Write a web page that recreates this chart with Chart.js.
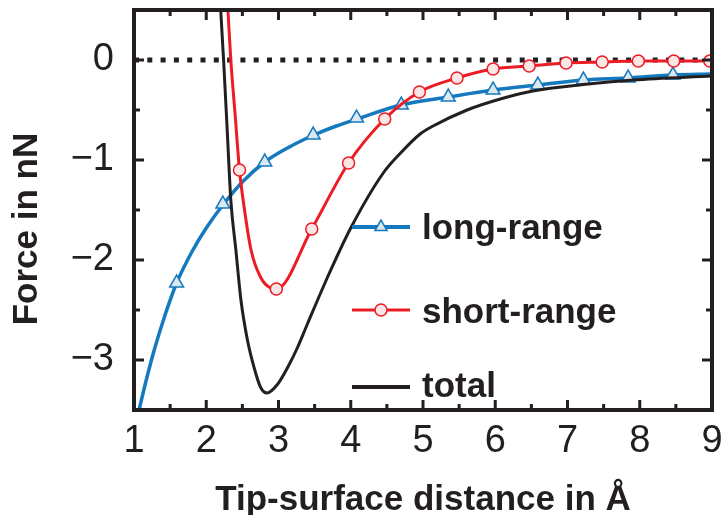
<!DOCTYPE html>
<html>
<head>
<meta charset="utf-8">
<script src="https://cdn.jsdelivr.net/npm/chart.js@4.4.1/dist/chart.umd.min.js"></script>
<style>
  html, body { margin: 0; padding: 0; background: #fff; }
  #wrap { width: 727px; height: 515px; }
</style>
</head>
<body>
<div id="wrap"><canvas id="forceChart" width="727" height="515"></canvas></div>
<script>
// long-range force (blue curve) and its triangle markers
const longX = [1.00, 1.07, 1.17, 1.28, 1.43, 1.59, 1.80, 2.00, 2.23, 2.50, 2.81, 3.15, 3.49, 3.80, 4.09, 4.69, 5.35, 5.97, 6.59, 7.22, 7.84, 8.46, 9.00];
const longY = [-3.72, -3.50, -3.20, -2.90, -2.55, -2.23, -1.92, -1.68, -1.45, -1.22, -1.02, -0.87, -0.75, -0.66, -0.59, -0.45, -0.37, -0.30, -0.25, -0.20, -0.18, -0.15, -0.14];
const longMarkX = [1.59, 2.23, 2.81, 3.48, 4.08, 4.70, 5.35, 5.97, 6.59, 7.22, 7.84, 8.46];
const longMarkY = [-2.23, -1.44, -1.02, -0.75, -0.58, -0.45, -0.37, -0.30, -0.25, -0.20, -0.18, -0.15];

// short-range force (red curve) and its circle markers
const shortX = [2.27, 2.30, 2.34, 2.40, 2.46, 2.52, 2.62, 2.75, 2.89, 2.97, 3.46, 3.97, 4.47, 4.95, 5.47, 5.97, 6.47, 6.98, 7.48, 7.98, 8.47, 8.97, 9.00];
const shortY = [0.85, 0.50, 0.00, -0.55, -1.10, -1.45, -1.90, -2.17, -2.28, -2.29, -1.69, -1.03, -0.59, -0.32, -0.18, -0.09, -0.06, -0.03, -0.02, -0.01, -0.01, -0.01, -0.01];
const shortMarkX = [2.46, 2.97, 3.46, 3.97, 4.47, 4.95, 5.47, 5.97, 6.47, 6.98, 7.48, 7.98, 8.47, 8.97];
const shortMarkY = [-1.10, -2.29, -1.69, -1.03, -0.59, -0.32, -0.18, -0.09, -0.06, -0.03, -0.02, -0.01, -0.01, -0.01];

// total force (black curve)
const totalX = [2.17, 2.20, 2.24, 2.29, 2.34, 2.41, 2.48, 2.57, 2.66, 2.75, 2.84, 2.99, 3.13, 3.26, 3.40, 3.68, 4.00, 4.45, 4.69, 4.96, 5.14, 5.61, 6.07, 6.52, 7.22, 7.91, 9.00];
const totalY = [0.80, 0.50, 0.00, -0.70, -1.40, -1.90, -2.40, -2.80, -3.07, -3.27, -3.33, -3.24, -3.07, -2.88, -2.64, -2.17, -1.68, -1.13, -0.93, -0.74, -0.66, -0.50, -0.39, -0.31, -0.245, -0.20, -0.16];

// zero reference line
const zeroX = [1, 9];
const zeroY = [0, 0];

// axes
const xMajor = [1, 2, 3, 4, 5, 6, 7, 8, 9];
const xTickLabels = ['1', '2', '3', '4', '5', '6', '7', '8', '9'];
const xMinor = [1.5, 2.5, 3.5, 4.5, 5.5, 6.5, 7.5, 8.5];
const yMajor = [0, -1, -2, -3];
const yTickLabels = ['0', '\u22121', '\u22122', '\u22123'];
const yMinor = [-0.5, -1.5, -2.5];

const seriesNames = ['long-range', 'short-range', 'total'];

const BLUE = '#1479bf';
const RED = '#ec1c24';
const INK = '#231f20';

const pts = (xs, ys) => xs.map((x, i) => ({ x: x, y: ys[i] }));

const axesPlugin = {
    id: 'figureAxes',
    afterDatasetsDraw(chart) {
        const ctx = chart.ctx;
        const a = chart.chartArea;
        const xs = chart.scales.x;
        const ys = chart.scales.y;

        ctx.save();
        ctx.strokeStyle = INK;
        ctx.fillStyle = INK;

        // frame
        ctx.lineWidth = 4;
        ctx.strokeRect(a.left, a.top, a.right - a.left, a.bottom - a.top);

        // inward ticks
        ctx.lineWidth = 3;
        ctx.beginPath();
        const xTick = (v, len) => {
            const px = xs.getPixelForValue(v);
            ctx.moveTo(px, a.bottom); ctx.lineTo(px, a.bottom - len);
            ctx.moveTo(px, a.top); ctx.lineTo(px, a.top + len);
        };
        const yTick = (v, len) => {
            const py = ys.getPixelForValue(v);
            ctx.moveTo(a.left, py); ctx.lineTo(a.left + len, py);
            ctx.moveTo(a.right, py); ctx.lineTo(a.right - len, py);
        };
        xMajor.forEach(v => xTick(v, 10));
        xMinor.forEach(v => xTick(v, 6));
        yMajor.forEach(v => yTick(v, 10));
        yMinor.forEach(v => yTick(v, 6));
        ctx.stroke();

        // tick labels
        ctx.font = '38px "Liberation Sans", Arial, sans-serif';
        ctx.textAlign = 'center';
        ctx.textBaseline = 'middle';
        xMajor.forEach((v, i) => ctx.fillText(xTickLabels[i], xs.getPixelForValue(v), 442));
        ctx.textAlign = 'right';
        yMajor.forEach((v, i) => ctx.fillText(yTickLabels[i], 114, ys.getPixelForValue(v)));

        // axis titles
        ctx.font = 'bold 35px "Liberation Sans", Arial, sans-serif';
        ctx.textAlign = 'center';
        ctx.textBaseline = 'alphabetic';
        ctx.fillText('Tip-surface distance in \u00c5', (a.left + a.right) / 2, 510);
        ctx.save();
        ctx.translate(37, 229);
        ctx.rotate(-Math.PI / 2);
        ctx.fillText('Force in nN', 0, 0);
        ctx.restore();

        // legend
        const items = [
            { color: BLUE, width: 4, style: 'triangle', r: 7, fill: '#dde7ef', lineY: 227, base: 239 },
            { color: RED, width: 3, style: 'circle', r: 6, fill: '#fbe6e6', lineY: 310, base: 323 },
            { color: INK, width: 4, style: null, lineY: 387, base: 397 }
        ];
        items.forEach((it, i) => {
            ctx.strokeStyle = it.color;
            ctx.lineWidth = it.width;
            ctx.beginPath();
            ctx.moveTo(352, it.lineY);
            ctx.lineTo(410, it.lineY);
            ctx.stroke();
            if (it.style) {
                ctx.fillStyle = it.fill;
                ctx.lineWidth = 1.5;
                Chart.helpers.drawPoint(ctx, { pointStyle: it.style, radius: it.r, rotation: 0, borderWidth: 1.5 }, 381, it.lineY);
            }
            ctx.fillStyle = INK;
            ctx.textAlign = 'left';
            ctx.fillText(seriesNames[i], 422, it.base);
        });

        ctx.restore();
    }
};

new Chart(document.getElementById('forceChart'), {
    type: 'line',
    data: {
        datasets: [
            {
                label: 'zero',
                data: pts(zeroX, zeroY),
                borderColor: INK,
                borderWidth: 5,
                borderDash: [5, 8.3],
                pointRadius: 0,
                order: 6
            },
            {
                label: seriesNames[0],
                data: pts(longX, longY),
                borderColor: BLUE,
                borderWidth: 3.5,
                cubicInterpolationMode: 'monotone',
                pointRadius: 0,
                order: 5
            },
            {
                label: seriesNames[0] + ' markers',
                data: pts(longMarkX, longMarkY),
                showLine: false,
                pointStyle: 'triangle',
                pointRadius: 8,
                pointBorderWidth: 1.5,
                pointBorderColor: BLUE,
                pointBackgroundColor: '#dde7ef',
                order: 4
            },
            {
                label: seriesNames[2],
                data: pts(totalX, totalY),
                borderColor: INK,
                borderWidth: 3,
                cubicInterpolationMode: 'monotone',
                pointRadius: 0,
                order: 3
            },
            {
                label: seriesNames[1],
                data: pts(shortX, shortY),
                borderColor: RED,
                borderWidth: 3,
                cubicInterpolationMode: 'monotone',
                pointRadius: 0,
                order: 2
            },
            {
                label: seriesNames[1] + ' markers',
                data: pts(shortMarkX, shortMarkY),
                showLine: false,
                pointStyle: 'circle',
                pointRadius: 6,
                pointBorderWidth: 1.5,
                pointBorderColor: RED,
                pointBackgroundColor: '#fbe6e6',
                order: 1
            }
        ]
    },
    options: {
        responsive: false,
        animation: false,
        clip: 0,
        layout: { padding: { left: 134, top: 10, right: 15, bottom: 105 } },
        plugins: { legend: { display: false }, tooltip: { enabled: false } },
        scales: {
            x: { type: 'linear', min: 1, max: 9, display: false },
            y: { type: 'linear', min: -3.5, max: 0.5, display: false }
        }
    },
    plugins: [axesPlugin]
});
</script>
</body>
</html>
